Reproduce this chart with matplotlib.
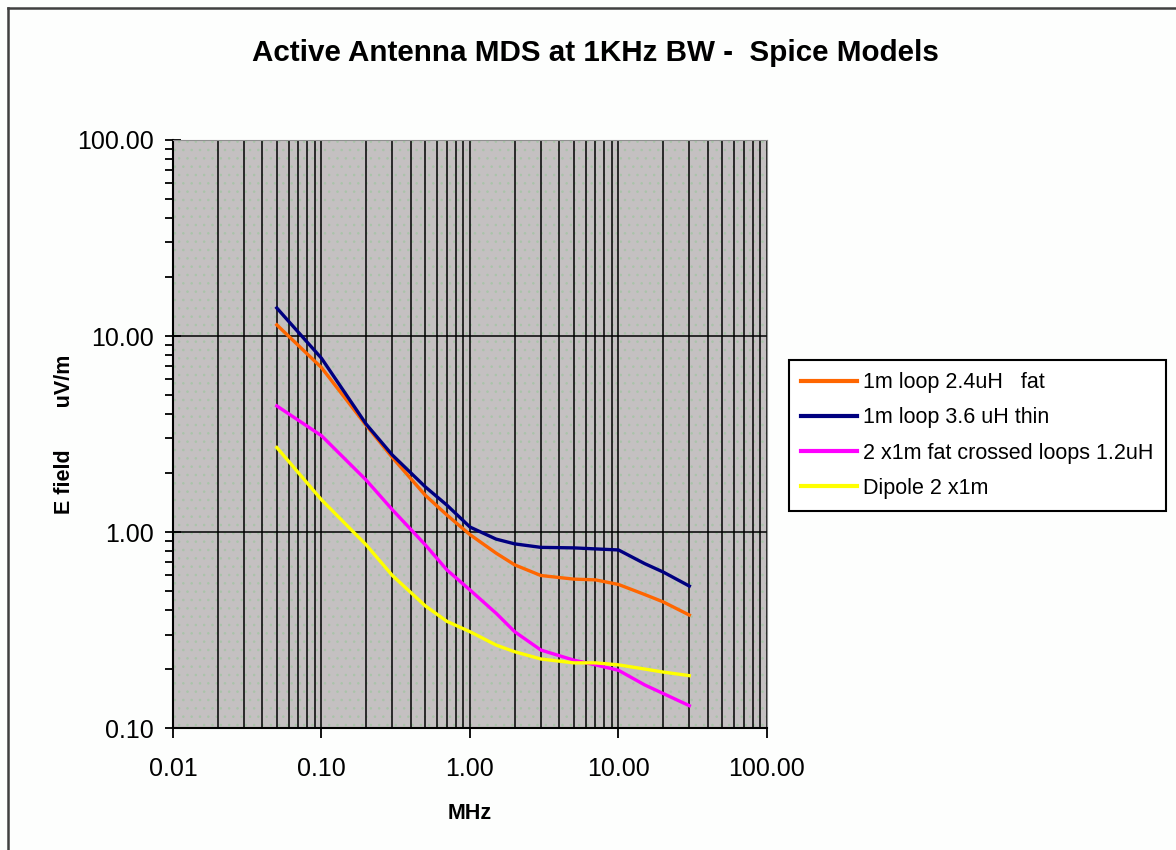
import matplotlib
matplotlib.use("Agg")
import matplotlib.pyplot as plt
from matplotlib.lines import Line2D
from matplotlib.patches import Rectangle
from matplotlib.ticker import LogLocator, FixedLocator, NullFormatter, FuncFormatter

plt.rcParams['font.family'] = ['Liberation Sans', 'DejaVu Sans']

# frequency points, MHz
freq = [0.05, 0.1, 0.2, 0.3, 0.5, 0.7, 1.0, 1.5, 2.0, 3.0, 5.0, 7.0, 10.0, 15.0, 20.0, 30.0]

# E field, uV/m
loop_fat = [11.4, 6.9, 3.5, 2.4, 1.54, 1.22, 0.97, 0.78, 0.68, 0.60, 0.575, 0.57, 0.54, 0.48, 0.44, 0.377]
loop_thin = [13.9, 7.7, 3.55, 2.47, 1.7, 1.37, 1.06, 0.92, 0.87, 0.835, 0.83, 0.82, 0.81, 0.69, 0.625, 0.53]
crossed = [4.4, 3.1, 1.84, 1.3, 0.86, 0.64, 0.506, 0.385, 0.31, 0.25, 0.222, 0.21, 0.197, 0.166, 0.15, 0.13]
dipole = [2.7, 1.46, 0.86, 0.60, 0.42, 0.35, 0.31, 0.265, 0.245, 0.225, 0.215, 0.215, 0.21, 0.20, 0.193, 0.185]

labels = ["1m loop 2.4uH   fat", "1m loop 3.6 uH thin",
          "2 x1m fat crossed loops 1.2uH", "Dipole 2 x1m"]
colors = ["#ff6600", "#000080", "#ff00ff", "#ffff00"]

fig = plt.figure(figsize=(11.76, 8.5), dpi=100)
fig.patch.set_facecolor("#fdfefd")
ax = fig.add_axes([0.1471, 0.1435, 0.5051, 0.6918])
ax.set_facecolor("#c4c0c1")
# stippled plot background
plt.rcParams['hatch.color'] = "#a9c4a9"
plt.rcParams['hatch.linewidth'] = 0.6
ax.add_patch(Rectangle((0, 0), 1, 1, transform=ax.transAxes, facecolor="none",
                       hatch="..", lw=0, zorder=0.5))

for y, lab, c in zip([loop_fat, loop_thin, crossed, dipole], labels, colors):
    ax.plot(freq, y, color=c, lw=2.4, label=lab, zorder=3,
            solid_joinstyle="round")

ax.set_xscale("log")
ax.set_yscale("log")
ax.set_xlim(0.01, 100)
ax.set_ylim(0.1, 100)

fmt = FuncFormatter(lambda v, p: "%.2f" % v)
ax.xaxis.set_major_locator(FixedLocator([0.01, 0.1, 1, 10, 100]))
ax.xaxis.set_minor_locator(LogLocator(base=10, subs=range(2, 10), numticks=20))
ax.xaxis.set_major_formatter(fmt)
ax.xaxis.set_minor_formatter(NullFormatter())
ax.yaxis.set_major_locator(FixedLocator([0.1, 1, 10, 100]))
ax.yaxis.set_minor_locator(LogLocator(base=10, subs=range(2, 10), numticks=20))
ax.yaxis.set_major_formatter(fmt)
ax.yaxis.set_minor_formatter(NullFormatter())

ax.grid(True, which="both", axis="x", color="black", lw=1.1)
ax.grid(True, which="major", axis="y", color="black", lw=1.1)

ax.tick_params(axis="x", which="major", direction="out", length=7, width=1.3,
               labelsize=18, pad=14, colors="black")
ax.tick_params(axis="x", which="minor", length=0)
ax.tick_params(axis="y", which="major", direction="inout", length=12, width=1.3,
               labelsize=18, pad=8)
ax.tick_params(axis="y", which="minor", direction="out", length=6, width=1.3)

for s in ["left", "bottom"]:
    ax.spines[s].set_linewidth(1.5)
    ax.spines[s].set_color("black")
for s in ["top", "right"]:
    ax.spines[s].set_linewidth(0.8)
    ax.spines[s].set_color("#909090")

ax.set_xlabel("MHz", fontsize=15.5, fontweight="bold", labelpad=16)
ax.set_ylabel("E field       uV/m", fontsize=15.5, fontweight="bold", labelpad=1)
fig.text(0.506, 0.938, "Active Antenna MDS at 1KHz BW -  Spice Models",
         ha="center", va="center", fontsize=21.3, fontweight="bold")

leg = ax.legend(loc="center left", bbox_to_anchor=(0.671, 0.4876),
                bbox_transform=fig.transFigure, fontsize=15.5, frameon=True,
                fancybox=False, edgecolor="black", framealpha=1,
                handlelength=2.6, handletextpad=0.3, labelspacing=0.66,
                borderpad=0.55, borderaxespad=0)
leg.get_frame().set_linewidth(1.5)
for h in leg.get_lines():
    h.set_linewidth(3)

# outer chart border (left and top only visible)
fig.add_artist(Line2D([0.0068, 0.0068], [0, 0.991], color="#404040", lw=1.8))
fig.add_artist(Line2D([0.0068, 1], [0.991, 0.991], color="#404040", lw=1.8))

fig.savefig("out.png", dpi=100, facecolor=fig.get_facecolor())
